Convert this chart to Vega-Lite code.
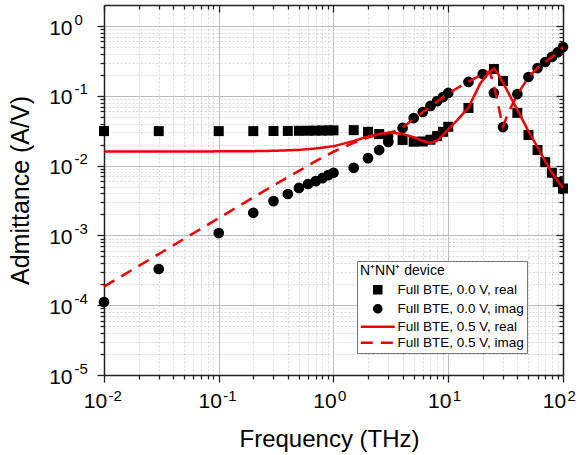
{
  "$schema": "https://vega.github.io/schema/vega-lite/v6.json",
  "autosize": {"type": "none"},
  "width": 459,
  "height": 370,
  "padding": {"left": 104, "top": 5, "right": 16, "bottom": 80},
  "background": "white",
  "data": {
    "values": [
      {"f": 0.01, "y": 0.0312, "s": "Full BTE, 0.0 V, real"},
      {"f": 0.03, "y": 0.0312, "s": "Full BTE, 0.0 V, real"},
      {"f": 0.1, "y": 0.0312, "s": "Full BTE, 0.0 V, real"},
      {"f": 0.2, "y": 0.0312, "s": "Full BTE, 0.0 V, real"},
      {"f": 0.3, "y": 0.0313, "s": "Full BTE, 0.0 V, real"},
      {"f": 0.4, "y": 0.0314, "s": "Full BTE, 0.0 V, real"},
      {"f": 0.5, "y": 0.0315, "s": "Full BTE, 0.0 V, real"},
      {"f": 0.6, "y": 0.0316, "s": "Full BTE, 0.0 V, real"},
      {"f": 0.7, "y": 0.0317, "s": "Full BTE, 0.0 V, real"},
      {"f": 0.8, "y": 0.0318, "s": "Full BTE, 0.0 V, real"},
      {"f": 0.9, "y": 0.0319, "s": "Full BTE, 0.0 V, real"},
      {"f": 1.0, "y": 0.0320, "s": "Full BTE, 0.0 V, real"},
      {"f": 1.5, "y": 0.0322, "s": "Full BTE, 0.0 V, real"},
      {"f": 2.0, "y": 0.0305, "s": "Full BTE, 0.0 V, real"},
      {"f": 2.5, "y": 0.0283, "s": "Full BTE, 0.0 V, real"},
      {"f": 3.0, "y": 0.0258, "s": "Full BTE, 0.0 V, real"},
      {"f": 4.0, "y": 0.0233, "s": "Full BTE, 0.0 V, real"},
      {"f": 5.0, "y": 0.0220, "s": "Full BTE, 0.0 V, real"},
      {"f": 6.0, "y": 0.0222, "s": "Full BTE, 0.0 V, real"},
      {"f": 7.0, "y": 0.0235, "s": "Full BTE, 0.0 V, real"},
      {"f": 8.0, "y": 0.0265, "s": "Full BTE, 0.0 V, real"},
      {"f": 9.0, "y": 0.0305, "s": "Full BTE, 0.0 V, real"},
      {"f": 10, "y": 0.036, "s": "Full BTE, 0.0 V, real"},
      {"f": 15, "y": 0.067, "s": "Full BTE, 0.0 V, real"},
      {"f": 25, "y": 0.242, "s": "Full BTE, 0.0 V, real"},
      {"f": 30, "y": 0.163, "s": "Full BTE, 0.0 V, real"},
      {"f": 40, "y": 0.057, "s": "Full BTE, 0.0 V, real"},
      {"f": 50, "y": 0.0274, "s": "Full BTE, 0.0 V, real"},
      {"f": 60, "y": 0.0167, "s": "Full BTE, 0.0 V, real"},
      {"f": 70, "y": 0.0112, "s": "Full BTE, 0.0 V, real"},
      {"f": 80, "y": 0.0079, "s": "Full BTE, 0.0 V, real"},
      {"f": 90, "y": 0.0058, "s": "Full BTE, 0.0 V, real"},
      {"f": 100, "y": 0.0047, "s": "Full BTE, 0.0 V, real"},

      {"f": 0.01, "y": 0.000111, "s": "Full BTE, 0.0 V, imag"},
      {"f": 0.03, "y": 0.00033, "s": "Full BTE, 0.0 V, imag"},
      {"f": 0.1, "y": 0.00108, "s": "Full BTE, 0.0 V, imag"},
      {"f": 0.2, "y": 0.00211, "s": "Full BTE, 0.0 V, imag"},
      {"f": 0.3, "y": 0.0031, "s": "Full BTE, 0.0 V, imag"},
      {"f": 0.4, "y": 0.00392, "s": "Full BTE, 0.0 V, imag"},
      {"f": 0.5, "y": 0.00478, "s": "Full BTE, 0.0 V, imag"},
      {"f": 0.6, "y": 0.00545, "s": "Full BTE, 0.0 V, imag"},
      {"f": 0.7, "y": 0.0060, "s": "Full BTE, 0.0 V, imag"},
      {"f": 0.8, "y": 0.0066, "s": "Full BTE, 0.0 V, imag"},
      {"f": 0.9, "y": 0.0073, "s": "Full BTE, 0.0 V, imag"},
      {"f": 1.0, "y": 0.0079, "s": "Full BTE, 0.0 V, imag"},
      {"f": 1.5, "y": 0.0093, "s": "Full BTE, 0.0 V, imag"},
      {"f": 2.0, "y": 0.0128, "s": "Full BTE, 0.0 V, imag"},
      {"f": 2.5, "y": 0.0167, "s": "Full BTE, 0.0 V, imag"},
      {"f": 3.0, "y": 0.0218, "s": "Full BTE, 0.0 V, imag"},
      {"f": 4.0, "y": 0.0346, "s": "Full BTE, 0.0 V, imag"},
      {"f": 5.0, "y": 0.048, "s": "Full BTE, 0.0 V, imag"},
      {"f": 6.0, "y": 0.0586, "s": "Full BTE, 0.0 V, imag"},
      {"f": 7.0, "y": 0.0715, "s": "Full BTE, 0.0 V, imag"},
      {"f": 8.0, "y": 0.084, "s": "Full BTE, 0.0 V, imag"},
      {"f": 9.0, "y": 0.096, "s": "Full BTE, 0.0 V, imag"},
      {"f": 10, "y": 0.11, "s": "Full BTE, 0.0 V, imag"},
      {"f": 15, "y": 0.158, "s": "Full BTE, 0.0 V, imag"},
      {"f": 20, "y": 0.205, "s": "Full BTE, 0.0 V, imag"},
      {"f": 25, "y": 0.11, "s": "Full BTE, 0.0 V, imag"},
      {"f": 30, "y": 0.0357, "s": "Full BTE, 0.0 V, imag"},
      {"f": 40, "y": 0.106, "s": "Full BTE, 0.0 V, imag"},
      {"f": 50, "y": 0.186, "s": "Full BTE, 0.0 V, imag"},
      {"f": 60, "y": 0.25, "s": "Full BTE, 0.0 V, imag"},
      {"f": 70, "y": 0.305, "s": "Full BTE, 0.0 V, imag"},
      {"f": 80, "y": 0.36, "s": "Full BTE, 0.0 V, imag"},
      {"f": 90, "y": 0.42, "s": "Full BTE, 0.0 V, imag"},
      {"f": 100, "y": 0.50, "s": "Full BTE, 0.0 V, imag"},

      {"f": 0.01, "y": 0.0159, "s": "Full BTE, 0.5 V, real"},
      {"f": 0.03, "y": 0.0159, "s": "Full BTE, 0.5 V, real"},
      {"f": 0.1, "y": 0.0160, "s": "Full BTE, 0.5 V, real"},
      {"f": 0.2, "y": 0.0161, "s": "Full BTE, 0.5 V, real"},
      {"f": 0.3, "y": 0.0163, "s": "Full BTE, 0.5 V, real"},
      {"f": 0.5, "y": 0.0168, "s": "Full BTE, 0.5 V, real"},
      {"f": 0.7, "y": 0.0176, "s": "Full BTE, 0.5 V, real"},
      {"f": 1.0, "y": 0.0190, "s": "Full BTE, 0.5 V, real"},
      {"f": 1.5, "y": 0.0225, "s": "Full BTE, 0.5 V, real"},
      {"f": 2.0, "y": 0.0262, "s": "Full BTE, 0.5 V, real"},
      {"f": 2.5, "y": 0.0283, "s": "Full BTE, 0.5 V, real"},
      {"f": 3.0, "y": 0.0293, "s": "Full BTE, 0.5 V, real"},
      {"f": 3.5, "y": 0.0292, "s": "Full BTE, 0.5 V, real"},
      {"f": 4.0, "y": 0.0284, "s": "Full BTE, 0.5 V, real"},
      {"f": 5.0, "y": 0.0255, "s": "Full BTE, 0.5 V, real"},
      {"f": 6.0, "y": 0.0225, "s": "Full BTE, 0.5 V, real"},
      {"f": 7.0, "y": 0.0212, "s": "Full BTE, 0.5 V, real"},
      {"f": 8.0, "y": 0.0228, "s": "Full BTE, 0.5 V, real"},
      {"f": 9.0, "y": 0.0275, "s": "Full BTE, 0.5 V, real"},
      {"f": 10, "y": 0.033, "s": "Full BTE, 0.5 V, real"},
      {"f": 12, "y": 0.045, "s": "Full BTE, 0.5 V, real"},
      {"f": 15, "y": 0.068, "s": "Full BTE, 0.5 V, real"},
      {"f": 19, "y": 0.150, "s": "Full BTE, 0.5 V, real"},
      {"f": 22, "y": 0.205, "s": "Full BTE, 0.5 V, real"},
      {"f": 25, "y": 0.245, "s": "Full BTE, 0.5 V, real"},
      {"f": 27, "y": 0.21, "s": "Full BTE, 0.5 V, real"},
      {"f": 30, "y": 0.155, "s": "Full BTE, 0.5 V, real"},
      {"f": 35, "y": 0.095, "s": "Full BTE, 0.5 V, real"},
      {"f": 40, "y": 0.063, "s": "Full BTE, 0.5 V, real"},
      {"f": 50, "y": 0.031, "s": "Full BTE, 0.5 V, real"},
      {"f": 60, "y": 0.0184, "s": "Full BTE, 0.5 V, real"},
      {"f": 70, "y": 0.0115, "s": "Full BTE, 0.5 V, real"},
      {"f": 80, "y": 0.0079, "s": "Full BTE, 0.5 V, real"},
      {"f": 90, "y": 0.0060, "s": "Full BTE, 0.5 V, real"},
      {"f": 100, "y": 0.0048, "s": "Full BTE, 0.5 V, real"},

      {"f": 0.01, "y": 0.000185, "s": "Full BTE, 0.5 V, imag"},
      {"f": 0.03, "y": 0.00054, "s": "Full BTE, 0.5 V, imag"},
      {"f": 0.1, "y": 0.00177, "s": "Full BTE, 0.5 V, imag"},
      {"f": 0.2, "y": 0.0035, "s": "Full BTE, 0.5 V, imag"},
      {"f": 0.3, "y": 0.0052, "s": "Full BTE, 0.5 V, imag"},
      {"f": 0.5, "y": 0.0084, "s": "Full BTE, 0.5 V, imag"},
      {"f": 0.7, "y": 0.0116, "s": "Full BTE, 0.5 V, imag"},
      {"f": 1.0, "y": 0.0158, "s": "Full BTE, 0.5 V, imag"},
      {"f": 1.5, "y": 0.0212, "s": "Full BTE, 0.5 V, imag"},
      {"f": 2.0, "y": 0.0253, "s": "Full BTE, 0.5 V, imag"},
      {"f": 2.5, "y": 0.0280, "s": "Full BTE, 0.5 V, imag"},
      {"f": 3.0, "y": 0.0297, "s": "Full BTE, 0.5 V, imag"},
      {"f": 3.5, "y": 0.0315, "s": "Full BTE, 0.5 V, imag"},
      {"f": 4.0, "y": 0.035, "s": "Full BTE, 0.5 V, imag"},
      {"f": 5.0, "y": 0.047, "s": "Full BTE, 0.5 V, imag"},
      {"f": 6.0, "y": 0.058, "s": "Full BTE, 0.5 V, imag"},
      {"f": 7.0, "y": 0.070, "s": "Full BTE, 0.5 V, imag"},
      {"f": 8.0, "y": 0.083, "s": "Full BTE, 0.5 V, imag"},
      {"f": 10, "y": 0.108, "s": "Full BTE, 0.5 V, imag"},
      {"f": 15, "y": 0.160, "s": "Full BTE, 0.5 V, imag"},
      {"f": 20, "y": 0.205, "s": "Full BTE, 0.5 V, imag"},
      {"f": 23, "y": 0.225, "s": "Full BTE, 0.5 V, imag"},
      {"f": 25, "y": 0.14, "s": "Full BTE, 0.5 V, imag"},
      {"f": 27, "y": 0.08, "s": "Full BTE, 0.5 V, imag"},
      {"f": 29, "y": 0.045, "s": "Full BTE, 0.5 V, imag"},
      {"f": 30, "y": 0.036, "s": "Full BTE, 0.5 V, imag"},
      {"f": 33, "y": 0.055, "s": "Full BTE, 0.5 V, imag"},
      {"f": 40, "y": 0.104, "s": "Full BTE, 0.5 V, imag"},
      {"f": 50, "y": 0.185, "s": "Full BTE, 0.5 V, imag"},
      {"f": 60, "y": 0.25, "s": "Full BTE, 0.5 V, imag"},
      {"f": 70, "y": 0.305, "s": "Full BTE, 0.5 V, imag"},
      {"f": 80, "y": 0.36, "s": "Full BTE, 0.5 V, imag"},
      {"f": 90, "y": 0.42, "s": "Full BTE, 0.5 V, imag"},
      {"f": 100, "y": 0.50, "s": "Full BTE, 0.5 V, imag"}
    ]
  },
  "resolve": {"axis": {"x": "independent", "y": "independent"}},
  "layer": [
    {
      "transform": [{"filter": "datum.s === 'Full BTE, 0.0 V, real'"}],
      "mark": {"type": "point", "filled": true, "opacity": 1, "size": 100},
      "encoding": {
        "x": {
          "field": "f", "type": "quantitative",
          "scale": {"type": "log", "domain": [0.01, 100], "nice": false},
          "axis": {
            "orient": "bottom", "title": "Frequency (THz)",
            "values": [0.01, 0.02, 0.03, 0.04, 0.05, 0.06, 0.07, 0.08, 0.09, 0.1, 0.2, 0.3, 0.4, 0.5, 0.6, 0.7, 0.8, 0.9, 1, 2, 3, 4, 5, 6, 7, 8, 9, 10, 20, 30, 40, 50, 60, 70, 80, 90, 100],
            "labelExpr": "indexof([0.01, 0.1, 1, 10, 100], datum.value) >= 0 ? '10' : ''",
            "labelFontSize": 21, "labelOffset": -9, "labelBaseline": "middle", "labelPadding": 19,
            "tickSize": {"condition": {"test": "indexof([0.01, 0.1, 1, 10, 100], datum.value) >= 0", "value": 7}, "value": 4},
            "titleFontSize": 24, "titlePadding": 16, "titleX": 225, "titleAlign": "center",
            "grid": true,
            "gridColor": {"condition": {"test": "indexof([0.01, 0.1, 1, 10, 100], datum.value) >= 0", "value": "#bdbdbd"}, "value": "#d6d6d6"},
            "gridDash": {"condition": {"test": "indexof([0.01, 0.1, 1, 10, 100], datum.value) >= 0", "value": []}, "value": [2, 2]},
            "domain": true, "labelFlush": false, "labelOverlap": false
          }
        },
        "y": {
          "field": "y", "type": "quantitative",
          "scale": {"type": "log", "domain": [0.00001, 2], "nice": false},
          "axis": {
            "orient": "left", "title": "Admittance (A/V)",
            "values": [0.00001, 0.00002, 0.00003, 0.00004, 0.00005, 0.00006, 0.00007, 0.00008, 0.00009, 0.0001, 0.0002, 0.0003, 0.0004, 0.0005, 0.0006, 0.0007, 0.0008, 0.0009, 0.001, 0.002, 0.003, 0.004, 0.005, 0.006, 0.007, 0.008, 0.009, 0.01, 0.02, 0.03, 0.04, 0.05, 0.06, 0.07, 0.08, 0.09, 0.1, 0.2, 0.3, 0.4, 0.5, 0.6, 0.7, 0.8, 0.9, 1],
            "labelExpr": "indexof([0.00001, 0.0001, 0.001, 0.01, 0.1, 1], datum.value) >= 0 ? '10' : ''",
            "labelFontSize": 21, "labelOffset": 2, "labelPadding": 25,
            "tickSize": {"condition": {"test": "indexof([0.00001, 0.0001, 0.001, 0.01, 0.1, 1], datum.value) >= 0", "value": 7}, "value": 4},
            "titleFontSize": 25, "titlePadding": 15,
            "grid": true,
            "gridColor": {"condition": {"test": "indexof([0.00001, 0.0001, 0.001, 0.01, 0.1, 1], datum.value) >= 0", "value": "#bdbdbd"}, "value": "#d6d6d6"},
            "gridDash": {"condition": {"test": "indexof([0.00001, 0.0001, 0.001, 0.01, 0.1, 1], datum.value) >= 0", "value": []}, "value": [2, 2]},
            "domain": true, "labelFlush": false, "labelOverlap": false
          }
        },
        "color": {
          "field": "s", "type": "nominal", "title": "N⁺NN⁺ device",
          "scale": {
            "domain": ["Full BTE, 0.0 V, real", "Full BTE, 0.0 V, imag", "Full BTE, 0.5 V, real", "Full BTE, 0.5 V, imag"],
            "range": ["#000000", "#000000", "#f00000", "#f00000"]
          }
        },
        "shape": {
          "field": "s", "type": "nominal", "title": "N⁺NN⁺ device",
          "scale": {
            "domain": ["Full BTE, 0.0 V, real", "Full BTE, 0.0 V, imag", "Full BTE, 0.5 V, real", "Full BTE, 0.5 V, imag"],
            "range": ["square", "circle", "M-4.8,0H4.8", "M-4.8,0H4.8"]
          }
        }
      }
    },
    {
      "transform": [{"filter": "datum.s === 'Full BTE, 0.0 V, imag'"}],
      "mark": {"type": "point", "filled": true, "opacity": 1, "size": 115},
      "encoding": {
        "x": {
          "field": "f", "type": "quantitative",
          "scale": {"type": "log", "domain": [0.01, 100], "nice": false},
          "axis": {
            "orient": "bottom", "title": null, "domain": false, "grid": false,
            "ticks": false, "tickSize": 0,
            "values": [0.01, 0.1, 1, 10, 100],
            "labelExpr": "datum.value < 0.05 ? '-2' : datum.value < 0.5 ? '-1' : datum.value < 5 ? '0' : datum.value < 50 ? '1' : '2'",
            "labelFontSize": 15, "labelAlign": "left", "labelOffset": 4, "labelBaseline": "middle", "labelPadding": 20,
            "labelFlush": false, "labelOverlap": false
          }
        },
        "y": {
          "field": "y", "type": "quantitative",
          "scale": {"type": "log", "domain": [0.00001, 2], "nice": false},
          "axis": {
            "orient": "left", "title": null, "domain": false, "grid": false,
            "ticks": false, "tickSize": 0,
            "values": [0.00001, 0.0001, 0.001, 0.01, 0.1, 1],
            "labelExpr": "datum.value < 5e-5 ? '-5' : datum.value < 5e-4 ? '-4' : datum.value < 5e-3 ? '-3' : datum.value < 0.05 ? '-2' : datum.value < 0.5 ? '-1' : '0'",
            "labelFontSize": 15, "labelAlign": "left", "labelOffset": -7, "labelPadding": 30,
            "labelFlush": false, "labelOverlap": false
          }
        },
        "color": {"field": "s", "type": "nominal", "title": "N⁺NN⁺ device"},
        "shape": {"field": "s", "type": "nominal", "title": "N⁺NN⁺ device"}
      }
    },
    {
      "transform": [{"filter": "datum.s === 'Full BTE, 0.5 V, real'"}],
      "mark": {"type": "line", "strokeWidth": 2.5},
      "encoding": {
        "x": {
          "field": "f", "type": "quantitative",
          "scale": {"type": "log", "domain": [0.01, 100], "nice": false},
          "axis": {
            "orient": "top", "title": null, "labels": false, "grid": false, "domain": true,
            "values": [0.01, 0.02, 0.03, 0.04, 0.05, 0.06, 0.07, 0.08, 0.09, 0.1, 0.2, 0.3, 0.4, 0.5, 0.6, 0.7, 0.8, 0.9, 1, 2, 3, 4, 5, 6, 7, 8, 9, 10, 20, 30, 40, 50, 60, 70, 80, 90, 100],
            "tickSize": {"condition": {"test": "indexof([0.01, 0.1, 1, 10, 100], datum.value) >= 0", "value": -7}, "value": -4}
          }
        },
        "y": {
          "field": "y", "type": "quantitative",
          "scale": {"type": "log", "domain": [0.00001, 2], "nice": false},
          "axis": {
            "orient": "right", "title": null, "labels": false, "grid": false, "domain": true,
            "values": [0.00001, 0.00002, 0.00003, 0.00004, 0.00005, 0.00006, 0.00007, 0.00008, 0.00009, 0.0001, 0.0002, 0.0003, 0.0004, 0.0005, 0.0006, 0.0007, 0.0008, 0.0009, 0.001, 0.002, 0.003, 0.004, 0.005, 0.006, 0.007, 0.008, 0.009, 0.01, 0.02, 0.03, 0.04, 0.05, 0.06, 0.07, 0.08, 0.09, 0.1, 0.2, 0.3, 0.4, 0.5, 0.6, 0.7, 0.8, 0.9, 1],
            "tickSize": {"condition": {"test": "indexof([0.00001, 0.0001, 0.001, 0.01, 0.1, 1], datum.value) >= 0", "value": -7}, "value": -4}
          }
        },
        "color": {"field": "s", "type": "nominal", "title": "N⁺NN⁺ device"},
        "strokeDash": {
          "field": "s", "type": "nominal", "title": "N⁺NN⁺ device",
          "scale": {
            "domain": ["Full BTE, 0.0 V, real", "Full BTE, 0.0 V, imag", "Full BTE, 0.5 V, real", "Full BTE, 0.5 V, imag"],
            "range": [[1, 0], [1, 0], [1, 0], [12, 8]]
          }
        }
      }
    },
    {
      "transform": [{"filter": "datum.s === 'Full BTE, 0.5 V, imag'"}],
      "mark": {"type": "line", "strokeWidth": 2.5},
      "encoding": {
        "x": {
          "field": "f", "type": "quantitative",
          "scale": {"type": "log", "domain": [0.01, 100], "nice": false},
          "axis": null
        },
        "y": {
          "field": "y", "type": "quantitative",
          "scale": {"type": "log", "domain": [0.00001, 2], "nice": false},
          "axis": null
        },
        "color": {"field": "s", "type": "nominal", "title": "N⁺NN⁺ device"},
        "strokeDash": {"field": "s", "type": "nominal", "title": "N⁺NN⁺ device"}
      }
    }
  ],
  "config": {
    "view": {"stroke": null},
    "axis": {
      "domainColor": "#222222", "domainWidth": 1.5,
      "tickColor": "#222222", "tickWidth": 1.3,
      "labelFont": "Liberation Sans", "labelColor": "#000000",
      "titleFont": "Liberation Sans", "titleFontWeight": "normal", "titleColor": "#000000"
    },
    "legend": {
      "orient": "none", "legendX": 253, "legendY": 256,
      "padding": 3, "strokeColor": "#777777", "fillColor": "#ffffff",
      "titleFont": "Liberation Sans", "titleFontSize": 14, "titleFontWeight": "normal", "titleColor": "#000000",
      "titlePadding": 5, "titleAnchor": "start",
      "labelFont": "Liberation Sans", "labelFontSize": 13.5, "labelColor": "#000000", "labelLimit": 300,
      "symbolSize": 50, "symbolStrokeWidth": 2.5, "symbolOffset": 11, "labelOffset": 13,
      "rowPadding": 1
    }
  }
}
